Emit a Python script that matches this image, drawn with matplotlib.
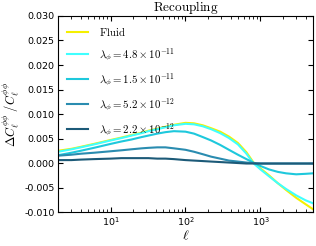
import matplotlib
matplotlib.use('Agg')
import matplotlib.pyplot as plt
import numpy as np

plt.rcParams['mathtext.fontset'] = 'cm'

ell = [2, 3, 4, 6, 10, 14, 19, 26, 32, 42, 54, 70, 100, 130, 170, 220, 290, 380,
       500, 650, 800, 1000, 1300, 1700, 2200, 3000, 4000, 5000]

fluid = [0.0025, 0.0029, 0.0033, 0.0039, 0.0047, 0.0052, 0.0057, 0.0062, 0.0066,
         0.0070, 0.0074, 0.0078, 0.0082, 0.0081, 0.0077, 0.0071, 0.0064, 0.0054,
         0.0041, 0.0022, 0.0002, -0.0011, -0.0025, -0.0041, -0.0055, -0.0071,
         -0.0084, -0.0094]
lam_48e11 = [0.0023, 0.0028, 0.0032, 0.0038, 0.0046, 0.0051, 0.0056, 0.0061, 0.0065,
             0.0069, 0.0073, 0.0077, 0.0080, 0.0079, 0.0075, 0.0069, 0.0061, 0.0051,
             0.0038, 0.0019, 0.0000, -0.0013, -0.0027, -0.0041, -0.0053, -0.0066,
             -0.0076, -0.0082]
lam_15e11 = [0.0016, 0.0021, 0.0025, 0.0031, 0.0039, 0.0044, 0.0048, 0.0053, 0.0056,
             0.0060, 0.0063, 0.0065, 0.0064, 0.0060, 0.0053, 0.0046, 0.0037, 0.0027,
             0.0017, 0.0008, 0.0001, -0.0006, -0.0013, -0.0018, -0.0021, -0.0023,
             -0.0022, -0.0021]
lam_52e12 = [0.0015, 0.0017, 0.0019, 0.0021, 0.0024, 0.0026, 0.0028, 0.0030, 0.0031,
             0.0032, 0.0032, 0.0030, 0.0027, 0.0023, 0.0018, 0.0013, 0.0009, 0.0005,
             0.0003, 0.0001, 0.0000, -0.0001, -0.0001, -0.0001, -0.0001, -0.0001,
             -0.0001, -0.0001]
lam_22e12 = [0.0006, 0.0006, 0.0007, 0.0008, 0.0009, 0.0010, 0.0010, 0.0010, 0.0010,
             0.0009, 0.0009, 0.0008, 0.0006, 0.0005, 0.0004, 0.0003, 0.0002, 0.0001,
             0.0000, -0.0001, -0.0001, -0.0001, -0.0001, -0.0001, -0.0001, -0.0001,
             -0.0001, -0.0001]

labels = [r'$\mathrm{Fluid}$',
          r'$\lambda_\phi=4.8\times10^{-11}$',
          r'$\lambda_\phi=1.5\times10^{-11}$',
          r'$\lambda_\phi=5.2\times10^{-12}$',
          r'$\lambda_\phi=2.2\times10^{-12}$']
colors = ['#f5f000', '#40ffff', '#1ec8dc', '#2a8cb0', '#1c5a78']
series = [fluid, lam_48e11, lam_15e11, lam_52e12, lam_22e12]

fig = plt.figure(figsize=(3.16, 2.46), dpi=100)
ax = fig.add_axes([0.184, 0.138, 0.806, 0.797])

for vals, lab, c in zip(series, labels, colors):
    ax.plot(ell, vals, color=c, lw=1.5, label=lab)

ax.set_xscale('log')
ax.set_xlim(2, 5000)
ax.set_ylim(-0.010, 0.030)
ax.set_yticks(np.arange(-0.010, 0.0301, 0.005))
ax.yaxis.set_major_formatter(matplotlib.ticker.FormatStrFormatter('%.3f'))
ax.tick_params(which='both', direction='in', top=True, right=True, labelsize=6.8)
ax.tick_params(which='major', length=3.5, pad=2.5)
ax.tick_params(which='minor', length=2)
for s in ax.spines.values():
    s.set_linewidth(0.8)

ax.set_xlabel(r'$\ell$', fontsize=10, labelpad=0)
ax.set_ylabel(r'$\Delta C_\ell^{\phi\phi}\ /C_\ell^{\phi\phi}$', fontsize=9)
ax.yaxis.set_label_coords(-0.145, 0.5)
ax.set_title(r'$\mathrm{Recoupling}$', fontsize=9.5, pad=2)

ax.legend(loc='upper left', frameon=False, fontsize=7.8, handlelength=2.0,
          labelspacing=0.75, borderaxespad=0.4, handletextpad=1.0)

fig.savefig('out.png', dpi=100)
